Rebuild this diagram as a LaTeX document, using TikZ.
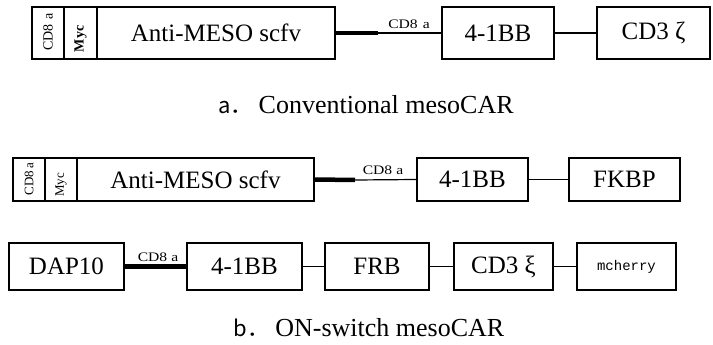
\documentclass[tikz,border=0pt]{standalone}
\usepackage{fontspec}
\setmainfont{Liberation Serif}
\newfontfamily\cjk{Noto Sans CJK SC}
\newfontfamily\widefont{Liberation Serif}[FakeStretch=1.2]
\newfontfamily\monofont{Liberation Mono}
\begin{document}
\begin{tikzpicture}[x=1pt,y=-1pt,
  box/.style={draw,line width=1.1pt,inner sep=0pt,font=\fontsize{25}{28}\selectfont},
  small/.style={inner sep=0pt,font=\widefont\fontsize{13}{15}\selectfont},
  vert/.style={inner sep=0pt,rotate=90,font=\fontsize{13}{15}\selectfont},
  thin/.style={line width=1.2pt},
  thick/.style={line width=4.5pt},
  caption/.style={inner sep=0pt,font=\fontsize{26}{30}\selectfont}]
\useasboundingbox (0,0) rectangle (713,345);
% Row 1
\node[box,minimum width=32pt,minimum height=52pt] (cdA) at (48,33) {};
\node[vert,font=\fontsize{14}{16}\selectfont] (cdAt) at (48,32) {CD8\hspace{5pt}a};
\node[box,minimum width=33pt,minimum height=52pt] (mycA) at (80.5,33) {};
\node[vert,font=\bfseries\fontsize{14}{16}\selectfont] (mycAt) at (80.5,39) {Myc};
\node[box,minimum width=238pt,minimum height=52pt] (scA) at (216,33) {Anti-MESO scfv};
\coordinate (kA) at (378,33);
\node[box,minimum width=112pt,minimum height=52pt] (bbA) at (498,33) {4-1BB};
\node[box,minimum width=113pt,minimum height=52pt] (cdz) at (653.5,33) {CD3 ζ};
\draw[thick] (scA.east) -- (kA);
\draw[thin] (kA) -- (bbA.west);
\draw[thin] (bbA.east) -- (cdz.west);
\node[small] (labA) at (409,24) {CD8\hspace{5pt}a};
\node[caption] (capA) at (366,105) {{\cjk\fontsize{22}{26}\selectfont a．}\hspace{6pt}Conventional mesoCAR};
% Row 2
\node[box,minimum width=32pt,minimum height=43pt] (cdB) at (29,179.5) {};
\node[vert] (cdBt) at (29,179) {CD8\hspace{3pt}a};
\node[box,minimum width=32pt,minimum height=43pt] (mycB) at (61,179.5) {};
\node[vert] (mycBt) at (61,185) {Myc};
\node[box,minimum width=237pt,minimum height=43pt] (scB) at (195.5,179.5) {Anti-MESO scfv};
\coordinate (kB) at (355,180);
\node[box,minimum width=111pt,minimum height=43pt] (bbB) at (472.5,179.5) {4-1BB};
\node[box,minimum width=111pt,minimum height=43pt] (fk) at (624.5,179.5) {FKBP};
\draw[thick] (scB.east) -- (kB);
\draw[thin] (kB) -- (bbB.west);
\draw[thin] (bbB.east) -- (fk.west);
\node[small] (labB) at (383,170) {CD8\hspace{4pt}a};
% Row 3
\node[box,minimum width=115pt,minimum height=47pt] (dap) at (66.5,266.5) {DAP10};
\node[box,minimum width=115pt,minimum height=47pt] (bbC) at (244.5,266.5) {4-1BB};
\node[box,minimum width=104pt,minimum height=47pt] (frb) at (377,266.5) {FRB};
\node[box,minimum width=99pt,minimum height=47pt] (cdx) at (503.5,266.5) {CD3 ξ};
\node[box,minimum width=99pt,minimum height=47pt,font=\monofont\fontsize{14}{16}\selectfont] (mch) at (626.5,266.5) {mcherry};
\draw[thick] (dap.east) -- (bbC.west);
\draw[thin] (bbC.east) -- (frb.west);
\draw[thin] (frb.east) -- (cdx.west);
\draw[thin] (cdx.east) -- (mch.west);
\node[small] (labC) at (158,257) {CD8\hspace{4pt}a};
\node[caption] (capB) at (369,328) {{\cjk\fontsize{22}{26}\selectfont b．}\hspace{6pt}ON-switch mesoCAR};
\end{tikzpicture}
\end{document}
